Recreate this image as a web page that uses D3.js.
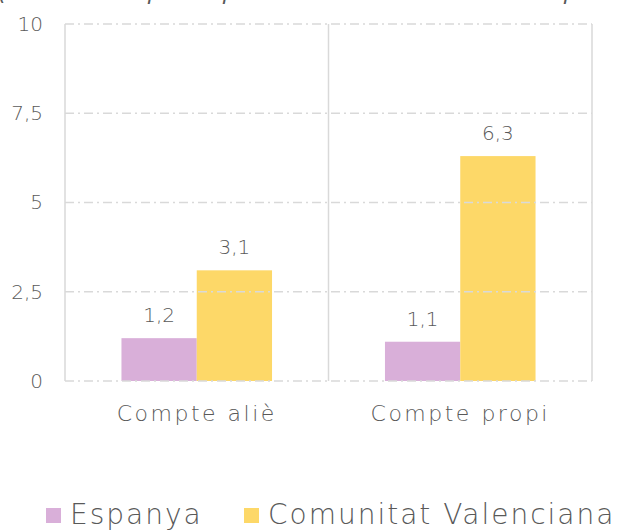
<!DOCTYPE html>
<html>
<head>
<meta charset="utf-8">
<script src="https://cdn.jsdelivr.net/npm/d3@7"></script>
<style>
  body { margin: 0; background: #fff; }
  text { font-family: "DejaVu Sans", sans-serif; font-weight: 200; fill: #595959; }
</style>
</head>
<body>
<div id="chart"></div>
<script>
// data
var categories = ["Compte aliè", "Compte propi"];
var seriesNames = ["Espanya", "Comunitat Valenciana"];
var espanya = [1.2, 1.1];
var valencia = [3.1, 6.3];
var yTicks = [0, 2.5, 5, 7.5, 10];
var colors = ["#d9afd9", "#fdd868"];

var width = 622, height = 531;

var svg = d3.select("#chart").append("svg")
    .attr("width", width)
    .attr("height", height);

// title, cut at the top edge like the reference
svg.append("text")
    .attr("x", -2)
    .attr("y", 0)
    .style("font-style", "italic")
    .style("font-size", "22px")
    .style("letter-spacing", "1px")
    .text("(variació en punts percentuals de la taxa d'ocupació)");

var x0 = d3.scaleBand()
    .domain(categories)
    .range([65, 592]);

var x1 = d3.scaleBand()
    .domain(seriesNames)
    .range([0, x0.bandwidth()])
    .paddingOuter(0.75)
    .paddingInner(0);

var y = d3.scaleLinear()
    .domain([0, 10])
    .range([381, 24]);

var fmt = function (v) { return String(v).replace(".", ","); };

// vertical separators
var seps = [65].concat(categories.map(c => x0(c) + x0.bandwidth()));
svg.selectAll(".sep")
    .data(seps)
    .enter().append("line")
    .attr("x1", d => d).attr("x2", d => d)
    .attr("y1", y(10)).attr("y2", y(0))
    .attr("stroke", "#d9d9d9")
    .attr("stroke-width", 1.5);

// bars
var rows = categories.map((c, i) => ({cat: c, vals: [espanya[i], valencia[i]]}));
var g = svg.selectAll(".grp")
    .data(rows)
    .enter().append("g")
    .attr("transform", d => "translate(" + x0(d.cat) + ",0)");

g.selectAll("rect")
    .data(d => d.vals.map((v, j) => ({name: seriesNames[j], v: v, j: j})))
    .enter().append("rect")
    .attr("x", d => x1(d.name))
    .attr("width", x1.bandwidth())
    .attr("y", d => y(d.v))
    .attr("height", d => y(0) - y(d.v))
    .attr("fill", d => colors[d.j]);

g.selectAll(".lbl")
    .data(d => d.vals.map((v, j) => ({name: seriesNames[j], v: v})))
    .enter().append("text")
    .attr("x", d => x1(d.name) + x1.bandwidth() / 2)
    .attr("y", d => y(d.v) - 16)
    .attr("text-anchor", "middle")
    .style("font-size", "20px")
    .text(d => fmt(d.v));

// gridlines (drawn over bars)
svg.selectAll(".grid")
    .data(yTicks)
    .enter().append("line")
    .attr("x1", 65).attr("x2", 592)
    .attr("y1", d => y(d)).attr("y2", d => y(d))
    .attr("stroke", "#d9d9d9")
    .attr("stroke-width", 1.5)
    .attr("stroke-dasharray", "9,4,2,4");

// y axis labels
var yAxis = d3.axisLeft(y).tickValues(yTicks).tickSize(0).tickPadding(22).tickFormat(fmt);
var ya = svg.append("g").attr("transform", "translate(65,0)").call(yAxis);
ya.select(".domain").remove();
ya.selectAll("text")
    .style("font-size", "20px")
    .style("font-family", null)
    .attr("fill", null);

// x axis labels
var xAxis = d3.axisBottom(x0).tickSize(0).tickPadding(24);
var xa = svg.append("g").attr("transform", "translate(0,381)").call(xAxis);
xa.select(".domain").remove();
xa.selectAll("text")
    .style("font-size", "22px")
    .style("letter-spacing", "2.5px")
    .style("font-family", null)
    .attr("fill", null);

// legend
var legendX = [46, 244];
var lg = svg.selectAll(".leg")
    .data(seriesNames)
    .enter().append("g")
    .attr("transform", (d, i) => "translate(" + legendX[i] + ",508)");
lg.append("rect")
    .attr("width", 15).attr("height", 15)
    .attr("fill", (d, i) => colors[i]);
lg.append("text")
    .attr("x", 24)
    .attr("y", 16)
    .style("font-size", "28px")
    .style("letter-spacing", "2px")
    .text(d => d);
</script>
</body>
</html>
